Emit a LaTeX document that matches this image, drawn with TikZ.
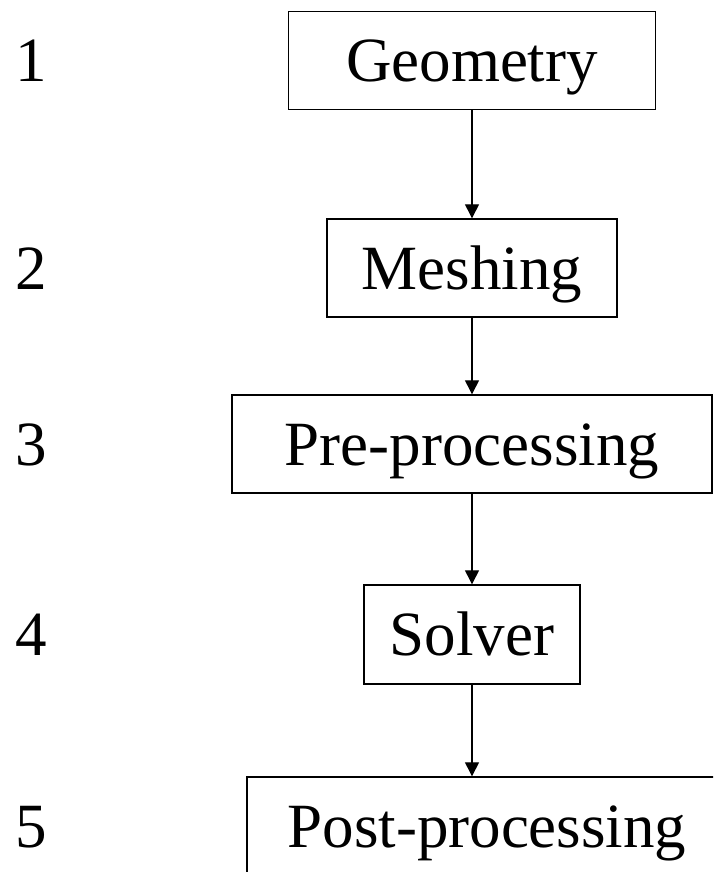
\documentclass[tikz,border=0pt]{standalone}
\usepackage{fontspec}
\setmainfont{Liberation Serif}
\usetikzlibrary{arrows.meta}
\tikzset{
  >={Triangle[length=14pt,width=14pt]}, % filled arrow head
  stage/.style={draw,line width=1.4pt,rectangle,inner sep=0,
                font=\fontsize{63}{70}\selectfont,
                text height=42pt,text depth=0pt,minimum height=98},
  number/.style={inner sep=0,font=\fontsize{63}{70}\selectfont,
                 text height=42pt,text depth=0pt},
  flow/.style={->,line width=1.3pt}
}
\begin{document}
\begin{tikzpicture}[x=1pt,y=-1pt]
            \useasboundingbox (0,0) rectangle (713,872);
            \clip (0,0) rectangle (713,872);
            % Draw stage boxes
            \node[stage, minimum width=367] (geometry) at (472,60.5) {Geometry};
            \node[stage, minimum width=290] (meshing) at (472,268) {Meshing};
            \node[stage, minimum width=480] (preproc) at (472,444) {Pre-processing};
            \node[stage, minimum width=216, minimum height=99] (solver) at (472,634.5) {Solver};
            \node[stage, minimum width=480] (postproc) at (487,826) {Post-processing};
            % Draw step numbers
            \foreach \y [count=\i] in {60.5,268,444,634.5,826}{%
            \node[number] (n\i) at (31,\y) {\i};
            }
            % Connect the stages
            \draw[flow] (geometry) -- (meshing);
            \draw[flow] (meshing) -- (preproc);
            \draw[flow] (preproc) -- (solver);
            \draw[flow] (solver.south) -- (solver.south |- postproc.north);
\end{tikzpicture}
\end{document}
